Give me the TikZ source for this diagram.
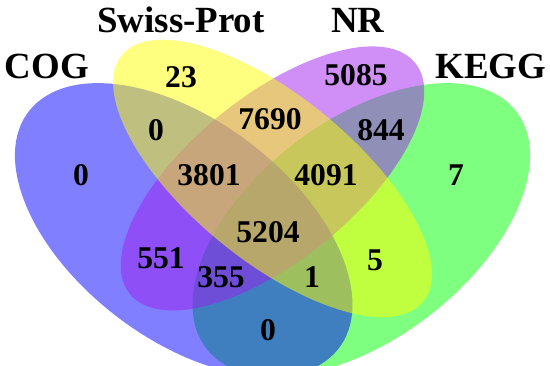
\documentclass[tikz,border=0pt]{standalone}
\usepackage{fontspec}
\setmainfont{Liberation Serif}
\definecolor{keggcol}{RGB}{0,255,0}
\definecolor{cogcol}{RGB}{0,0,255}
\definecolor{nrcol}{RGB}{160,32,240}
\definecolor{swisscol}{RGB}{255,255,0}
\usepackage{tikz}
\tikzset{
  venn/.style={fill=#1,fill opacity=0.5},
  setname/.style={font=\fontsize{21}{21}\selectfont\bfseries,inner sep=0pt},
  count/.style={font=\fontsize{18}{18}\selectfont\bfseries,inner sep=0pt},
}
\begin{document}
\begin{tikzpicture}

    \clip (0,0) rectangle (11,7.3);

    % sets
    \begin{scope}[shift={(-0.47,-2.14)},xscale=11.84,yscale=10.3]
      \fill[venn=keggcol,shift={(0.65,0.47)},rotate=45]   (0,0) ellipse [x radius=0.35,y radius=0.20];
      \fill[venn=cogcol,shift={(0.35,0.47)},rotate=135]   (0,0) ellipse [x radius=0.35,y radius=0.20];
      \fill[venn=nrcol,shift={(0.50,0.57)},rotate=45]     (0,0) ellipse [x radius=0.33,y radius=0.15];
      \fill[venn=swisscol,shift={(0.50,0.57)},rotate=135] (0,0) ellipse [x radius=0.35,y radius=0.15];
    \end{scope}

    \node[setname] (cog)   at (0.94,5.98) {COG};
    \node[setname] (swiss) at (3.62,6.90) {Swiss-Prot};
    \node[setname] (nr)    at (7.16,6.90) {NR};
    \node[setname] (kegg)  at (9.82,5.98) {KEGG};

    % counts
    \node[count] (s)       at (3.62,5.76) {23};
    \node[count] (n)       at (7.12,5.80) {5085};
    \node[count] (cs)      at (3.12,4.70) {0};
    \node[count] (sn)      at (5.40,4.92) {7690};
    \node[count] (nk)      at (7.62,4.70) {844};
    \node[count] (c)       at (1.62,3.80) {0};
    \node[count] (csn)     at (4.18,3.80) {3801};
    \node[count] (snk)     at (6.52,3.80) {4091};
    \node[count] (k)       at (9.12,3.80) {7};
    \node[count] (csnk)    at (5.36,2.66) {5204};
    \node[count] (cn)      at (3.22,2.14) {551};
    \node[count] (cnk)     at (4.42,1.76) {355};
    \node[count] (csk)     at (6.24,1.76) {1};
    \node[count] (sk)      at (7.50,2.10) {5};
    \node[count] (ck)      at (5.36,0.70) {0};

\end{tikzpicture}
\end{document}
